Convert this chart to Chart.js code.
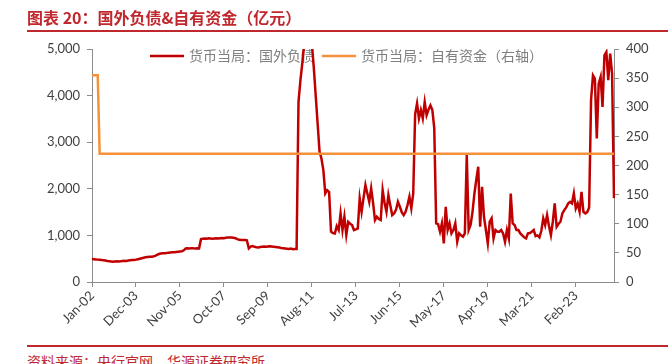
<!DOCTYPE html>
<html>
<head>
<meta charset="utf-8">
<script src="https://cdn.jsdelivr.net/npm/chart.js@4.4.1/dist/chart.umd.min.js"></script>
<style>
  html, body { margin: 0; padding: 0; background: #fff; }
  body { width: 668px; height: 364px; position: relative; overflow: hidden; font-family: "Noto Sans CJK SC", sans-serif; }
  #title { position: absolute; left: 27px; top: 7px; font-size: 16px; font-weight: bold; color: #C0282E; line-height: 20px; white-space: nowrap; }
  #titleLine { position: absolute; left: 27px; right: 0; top: 30px; height: 2px; background: #C0282E; }
  #srcLine { position: absolute; left: 27px; right: 0; top: 345px; height: 2px; background: #C0282E; }
  #source { position: absolute; left: 27px; top: 352px; font-size: 14px; color: #C0282E; line-height: 18px; white-space: nowrap; }
  #wrap { position: absolute; left: 0; top: 0; width: 668px; height: 340px; }
</style>
</head>
<body>
<div id="wrap"><canvas id="lineChart"></canvas></div>
<div id="title">图表 20：国外负债&amp;自有资金（亿元）</div>
<div id="titleLine"></div>
<div id="srcLine"></div>
<div id="source">资料来源：央行官网，华源证券研究所</div>
<script>
// monthly, Jan 2002 .. Oct 2024
const monthNames = ['Jan', 'Feb', 'Mar', 'Apr', 'May', 'Jun', 'Jul', 'Aug', 'Sep', 'Oct', 'Nov', 'Dec'];
const startYear = 2002;
const pointCount = 274;
const labelStep = 23; // Jan-02, Dec-03, Nov-05 ...

// 货币当局：国外负债 (left axis)
const foreignLiab = [
  493, 490, 485, 480, 475, 470, 465, 460, 450, 445, 440, 435,
  440, 445, 440, 445, 450, 455, 450, 460, 465, 470, 471, 480,
  490, 500, 510, 520, 530, 535, 540, 543, 545, 560, 580, 600,
  610, 615, 615, 620, 630, 635, 640, 640, 645, 650, 655, 660,
  680, 720, 722, 720, 725, 722, 720, 725, 722, 920, 930, 935,
  930, 940, 935, 930, 935, 940, 935, 940, 945, 940, 950, 955,
  957, 955, 950, 940, 920, 905, 900, 900, 900, 895, 722, 760,
  770, 755, 745, 740, 750, 755, 760, 755, 760, 765, 760, 755,
  750, 745, 740, 730, 725, 720, 715, 710, 720, 705, 710, 710,
  3864, 4329, 4700, 5150, 5300, 5250, 5400, 5100, 4600, 4000, 3400, 2800,
  2650, 2400, 1900, 1970, 1930, 1080, 1050, 1040, 1200, 1115, 1470, 1115,
  1400, 1007, 1290, 1250, 1222, 1115, 1130, 1150, 1793, 1507, 1800, 2079,
  1900, 1721, 2008, 1700, 1329, 1400, 1350, 1329, 1972, 1700, 1507, 1865,
  1650, 1436, 1472, 1550, 1721, 1615, 1500, 1436, 1507, 1650, 1829, 1579,
  1900, 3600, 3830, 3510, 3690, 3510, 3860, 3580, 3700, 3790, 3690, 3300,
  1258, 1240, 1079, 1258, 829, 1615, 1115, 1258, 1043, 1115, 1258, 865,
  1043, 1000, 972, 1043, 2722, 1115, 1222, 1500, 1900, 2200, 2472, 1186,
  2043, 1400, 1115, 829, 1293, 1365, 936, 1115, 1079, 1079, 1115, 1043,
  865, 1115, 936, 1900, 1258, 1222, 1115, 1115, 1043, 1000, 958, 936,
  1043, 1050, 1080, 1115, 986, 1000, 958, 1100, 1365, 1222, 1436, 1200,
  1007, 1293, 1686, 1186, 1250, 1293, 1472, 1543, 1600, 1686, 1721, 1686,
  1900, 1579, 1686, 1507, 1936, 1507, 1472, 1500, 1600, 3900, 4436, 4365,
  3079, 4258, 4400, 3757, 4865, 4936, 4329, 4900, 4472, 1800
];

// 货币当局：自有资金 (right axis)
const ownFunds = [
  355, 355, 355, 355, 220, 220, 220, 220, 220, 220, 220, 220,
  220, 220, 220, 220, 220, 220, 220, 220, 220, 220, 220, 220,
  220, 220, 220, 220, 220, 220, 220, 220, 220, 220, 220, 220,
  220, 220, 220, 220, 220, 220, 220, 220, 220, 220, 220, 220,
  220, 220, 220, 220, 220, 220, 220, 220, 220, 220, 220, 220,
  220, 220, 220, 220, 220, 220, 220, 220, 220, 220, 220, 220,
  220, 220, 220, 220, 220, 220, 220, 220, 220, 220, 220, 220,
  220, 220, 220, 220, 220, 220, 220, 220, 220, 220, 220, 220,
  220, 220, 220, 220, 220, 220, 220, 220, 220, 220, 220, 220,
  220, 220, 220, 220, 220, 220, 220, 220, 220, 220, 220, 220,
  220, 220, 220, 220, 220, 220, 220, 220, 220, 220, 220, 220,
  220, 220, 220, 220, 220, 220, 220, 220, 220, 220, 220, 220,
  220, 220, 220, 220, 220, 220, 220, 220, 220, 220, 220, 220,
  220, 220, 220, 220, 220, 220, 220, 220, 220, 220, 220, 220,
  220, 220, 220, 220, 220, 220, 220, 220, 220, 220, 220, 220,
  220, 220, 220, 220, 220, 220, 220, 220, 220, 220, 220, 220,
  220, 220, 220, 220, 220, 220, 220, 220, 220, 220, 220, 220,
  220, 220, 220, 220, 220, 220, 220, 220, 220, 220, 220, 220,
  220, 220, 220, 220, 220, 220, 220, 220, 220, 220, 220, 220,
  220, 220, 220, 220, 220, 220, 220, 220, 220, 220, 220, 220,
  220, 220, 220, 220, 220, 220, 220, 220, 220, 220, 220, 220,
  220, 220, 220, 220, 220, 220, 220, 220, 220, 220, 220, 220,
  220, 220, 220, 220, 220, 220, 220, 220, 220, 220
];

const seriesNames = ['货币当局：国外负债', '货币当局：自有资金（右轴）'];
const seriesColors = ['#C00000', '#F5913A'];

const labels = [];
for (let i = 0; i < pointCount; i++) {
  const yy = String((startYear + Math.floor(i / 12)) % 100).padStart(2, '0');
  labels.push(monthNames[i % 12] + '-' + yy);
}

const axisColor = '#8C8C8C';
const tickFont = { family: 'Lato, "Liberation Sans", sans-serif', size: 13 };

// legend sits inside the plot, under the lines
const insideLegend = {
  id: 'insideLegend',
  beforeDatasetsDraw(c) {
    const ctx = c.ctx;
    const items = [
      { x: 150, text: seriesNames[0], color: seriesColors[0] },
      { x: 322, text: seriesNames[1], color: seriesColors[1] }
    ];
    const y = 56;
    ctx.save();
    ctx.font = '14px "Noto Sans CJK SC", sans-serif';
    ctx.textBaseline = 'middle';
    items.forEach((it) => {
      ctx.strokeStyle = it.color;
      ctx.lineWidth = 2.5;
      ctx.beginPath();
      ctx.moveTo(it.x, y);
      ctx.lineTo(it.x + 34, y);
      ctx.stroke();
      ctx.fillStyle = '#7F7F7F';
      ctx.fillText(it.text, it.x + 39, y);
    });
    ctx.restore();
  }
};

const chart = new Chart(document.getElementById('lineChart'), {
  type: 'line',
  data: {
    labels,
    datasets: [
      {
        label: seriesNames[0],
        data: foreignLiab,
        yAxisID: 'y',
        borderColor: seriesColors[0],
        borderWidth: 2.5,
        pointRadius: 0,
        tension: 0,
        order: 2
      },
      {
        label: seriesNames[1],
        data: ownFunds,
        yAxisID: 'y1',
        borderColor: seriesColors[1],
        borderWidth: 2.5,
        pointRadius: 0,
        tension: 0,
        order: 1
      }
    ]
  },
  options: {
    responsive: true,
    maintainAspectRatio: false,
    animation: false,
    layout: { padding: { top: 49, bottom: 3, left: 0, right: 0 } },
    plugins: {
      legend: { display: false },
      tooltip: { enabled: false }
    },
    scales: {
      x: {
        offset: false,
        border: { color: axisColor, width: 1 },
        grid: { drawOnChartArea: false, drawTicks: true, tickLength: 5, color: axisColor },
        ticks: {
          autoSkip: false,
          minRotation: 45,
          maxRotation: 45,
          padding: 1,
          color: '#404040',
          font: tickFont,
          callback: function (value, index) {
            return index % labelStep === 0 ? this.getLabelForValue(value) : null;
          }
        },
        afterFit: (s) => { s.height = 55; }
      },
      y: {
        position: 'left',
        min: 0,
        max: 5000,
        border: { color: axisColor, width: 1 },
        grid: { drawOnChartArea: false, drawTicks: true, tickLength: 5, color: axisColor },
        ticks: {
          stepSize: 1000,
          padding: 7,
          color: '#404040',
          font: tickFont,
          callback: (v) => v.toLocaleString('en-US')
        },
        afterFit: (s) => { s.width = 92; }
      },
      y1: {
        position: 'right',
        min: 0,
        max: 400,
        border: { color: axisColor, width: 1 },
        grid: { drawOnChartArea: false, drawTicks: true, tickLength: 5, color: axisColor },
        ticks: {
          stepSize: 50,
          padding: 7,
          color: '#404040',
          font: tickFont
        },
        afterFit: (s) => { s.width = 54; }
      }
    }
  },
  plugins: [insideLegend]
});
</script>
</body>
</html>
